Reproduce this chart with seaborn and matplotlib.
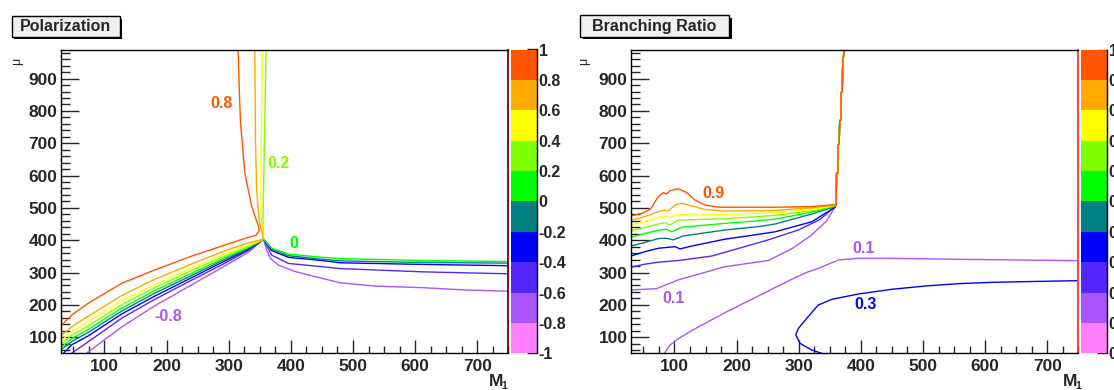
import matplotlib
matplotlib.use("Agg")
import matplotlib.pyplot as plt
from matplotlib.colors import ListedColormap
from matplotlib.patches import Rectangle
from matplotlib.ticker import MultipleLocator, FixedLocator
import numpy as np
import seaborn as sns

# ROOT-like palette, lowest bin first
PALETTE = ["#ff80ff", "#aa55ff", "#5527ff", "#0000ff", "#008080",
           "#00ff00", "#80ff00", "#ffff00", "#ffaa00", "#ff5500"]

POL_EDGES = [-1, -0.8, -0.6, -0.4, -0.2, 0, 0.2, 0.4, 0.6, 0.8, 1]
POL_TICKLABELS = ["-1", "-0.8", "-0.6", "-0.4", "-0.2", "0", "0.2", "0.4", "0.6", "0.8", "1"]
BR_EDGES = [0, 0.1, 0.2, 0.3, 0.4, 0.5, 0.6, 0.7, 0.8, 0.9, 1]
BR_TICKLABELS = ["0", "0.1", "0.2", "0.3", "0.4", "0.5", "0.6", "0.7", "0.8", "0.9", "1"]

# ---- Polarization contours (M1, mu) ----
pol_p08_x = [30, 47, 74, 128, 181, 235, 289, 332, 344, 349, 348, 337, 331.5, 326, 319, 317, 315]
pol_p08_y = [135, 168, 205, 267, 308, 347, 382, 409, 415, 428, 442, 504, 555, 607, 762, 865, 990]
pol_p06_x = [30, 47, 74, 128, 181, 235, 289, 332, 356, 349, 345, 343, 342]
pol_p06_y = [104, 132, 165, 229, 279, 322, 364, 392, 403, 462, 555, 710, 990]
pol_p04_x = [30, 47, 74, 128, 181, 235, 289, 332, 356, 352.5, 351.6, 352.6, 354]
pol_p04_y = [88, 117, 148, 213, 263, 310, 353, 385, 403, 462, 555, 762, 990]
pol_p02_x = [30, 47, 74, 128, 181, 235, 289, 332, 356, 355, 356, 358, 360]
pol_p02_y = [78, 106, 135, 201, 253, 302, 347, 381, 403, 462, 555, 762, 990]
pol_p00_x = [30, 47, 74, 128, 181, 235, 289, 332, 356, 369, 396, 450, 480, 613, 750]
pol_p00_y = [68, 95, 124, 190, 244, 293, 341, 378, 403, 375, 357, 347, 343, 337, 334]
pol_m02_x = [30, 47, 74, 128, 181, 235, 289, 332, 356, 370, 396, 450, 480, 613, 750]
pol_m02_y = [61, 86, 115, 181, 236, 286, 336, 375, 403, 372, 352, 341, 336, 331, 329]
pol_m04_x = [34, 47, 74, 128, 181, 235, 289, 332, 356, 369, 396, 450, 480, 613, 750]
pol_m04_y = [50, 76, 104, 172, 227, 279, 331, 372, 403, 368, 347, 337, 330, 325, 321]
pol_m06_x = [47, 74, 128, 181, 235, 289, 332, 356, 358, 369, 396, 450, 480, 613, 750]
pol_m06_y = [50, 86, 159, 217, 271, 324, 369, 403, 395, 354, 328, 318, 312, 302, 296]
pol_m08_x = [71, 128, 181, 235, 289, 332, 356, 361, 367, 380, 407, 450, 480, 535, 613, 680, 750]
pol_m08_y = [50, 132, 197, 256, 315, 363, 403, 370, 344, 323, 303, 282, 268, 258, 253, 246, 242]

# ---- Branching ratio contours ----
br_vert_x = [360, 361, 363, 363, 365, 366, 368, 368, 370, 371, 372, 373]
br_vert_y = [510, 607, 609, 695, 697, 770, 772, 857, 859, 965, 967, 990]

br_09_x = [30, 47, 61, 74, 82, 87, 93, 106, 120, 133, 149, 171, 235, 262, 321, 358.5]
br_09_y = [475, 483, 495, 535, 547, 543, 553, 559, 547, 524, 509, 502, 502, 502, 504, 510]
br_08_x = [30, 52.5, 74, 85, 90, 101, 112, 128, 149, 181, 235, 262, 321, 358.5]
br_08_y = [462, 473, 488, 493, 490, 509, 514, 506, 495, 490, 491, 492, 500, 509]
br_07_x = [30, 52.5, 74, 85, 93, 101, 128, 181, 235, 262, 321, 358.5]
br_07_y = [447, 457, 471, 475, 470, 478, 481, 480, 483, 485, 495, 508]
br_06_x = [30, 52.5, 74, 85, 93, 106, 181, 235, 262, 321, 358.5]
br_06_y = [428.5, 440, 450, 454, 447, 462, 466.5, 473, 477, 491, 507]
br_05_x = [30, 52.5, 74, 87, 95.5, 112, 181, 235, 262, 321, 358.5]
br_05_y = [409, 421, 430.5, 434, 426, 440, 452, 460, 465, 487, 506]
br_04_x = [30, 52.5, 74, 87, 98, 114, 181, 235, 262, 321, 358.5]
br_04_y = [382, 393, 405, 406, 401, 413, 431.5, 442, 450, 481, 504]
br_03_x = [30, 52.5, 74, 101, 109, 128, 181, 235, 262, 321, 358.5]
br_03_y = [351, 364.5, 375, 380, 373, 382, 403, 418, 426, 457, 502]
br_02_x = [30, 50, 74, 106, 160, 251, 300, 335, 358.5]
br_02_y = [316, 325, 332, 337, 351, 401, 432, 465, 505]
br_01_x = [30, 71, 106, 181, 251, 290, 320, 345, 358.5]
br_01_y = [246, 250, 277, 318, 337, 375, 415, 460, 503]

br_01_low_x = [83.7, 92.8, 106.2, 127.7, 181.4, 235, 288.7, 312.9, 331.7, 363.9, 396.1, 449.8, 557.2, 750]
br_01_low_y = [50, 75.8, 95.4, 120.2, 175.9, 227.4, 279, 300.5, 312.9, 338.7, 343.9, 343.9, 340.8, 336.6]
br_03_low_x = [337, 320.9, 302.1, 295.2, 299.5, 312.9, 329, 331.7, 353.1, 396.1, 449.8, 503.4, 557.1, 610.8, 691.3, 750]
br_03_low_y = [50, 60.2, 80.8, 106.6, 127.2, 158.2, 194.3, 199.5, 217, 233.5, 248, 258.2, 265.5, 269.6, 272.7, 274.8]

W, H = 1114, 390
sns.set_style("white")
plt.rcParams["font.family"] = ["Liberation Sans", "DejaVu Sans"]
plt.rcParams["font.weight"] = "bold"

fig = plt.figure(figsize=(W / 100, H / 100), dpi=100)


def line(ax, xs, ys, color):
    sns.lineplot(x=xs, y=ys, ax=ax, sort=False, estimator=None, color=color,
                 lw=1.0, legend=False)


def setup_frame(ax, right_color):
    ax.set_xlim(30, 750)
    ax.set_ylim(50, 990)
    ax.xaxis.set_major_locator(MultipleLocator(100))
    ax.xaxis.set_minor_locator(MultipleLocator(25))
    ax.yaxis.set_major_locator(MultipleLocator(100))
    ax.yaxis.set_minor_locator(MultipleLocator(20))
    ax.set_xticks([100, 200, 300, 400, 500, 600, 700])
    ax.set_yticks([100, 200, 300, 400, 500, 600, 700, 800, 900])
    ax.tick_params(axis="x", which="major", direction="in", length=9.5, width=1, pad=4)
    ax.tick_params(axis="x", which="minor", direction="in", length=5, width=1)
    ax.tick_params(axis="y", which="major", direction="in", length=13, width=1, pad=2.5)
    ax.tick_params(axis="y", which="minor", direction="in", length=6.5, width=1)
    ax.tick_params(which="both", bottom=True, left=True, top=False, right=False,
                   labelsize=12.5)
    for lab in ax.get_xticklabels() + ax.get_yticklabels():
        lab.set_fontweight("bold")
    for s in ax.spines.values():
        s.set_color("black")
        s.set_linewidth(1.0)
    ax.spines["right"].set_color(right_color)
    ax.spines["right"].set_linewidth(1.3)
    ax.set_xlabel("")
    ax.set_ylabel("")
    ax.grid(False)


def palette_bar(cax, edges, labels):
    cax.pcolormesh([0, 1], edges, np.arange(10).reshape(-1, 1),
                   cmap=ListedColormap(PALETTE), vmin=0, vmax=9, shading="flat")
    cax.set_xlim(0, 1)
    cax.set_ylim(edges[0], edges[-1])
    cax.set_xticks([])
    cax.yaxis.tick_right()
    cax.yaxis.set_major_locator(FixedLocator(edges))
    cax.set_yticklabels(labels, fontweight="bold")
    cax.tick_params(axis="y", direction="in", length=7, width=1, pad=1.5,
                    labelsize=11.5, left=False, right=True)
    for k in ["left", "top", "bottom"]:
        cax.spines[k].set_visible(False)
    cax.spines["right"].set_color("black")
    cax.spines["right"].set_linewidth(1.0)


def title_box(x0, y0, w, h, text):
    dx, dy = 2.5 / W, 2.5 / H
    fig.add_artist(Rectangle((x0 + dx, y0 - dy), w, h, transform=fig.transFigure,
                             facecolor="black", edgecolor="black", lw=0))
    fig.add_artist(Rectangle((x0, y0), w, h, transform=fig.transFigure,
                             facecolor="#f0f0f0", edgecolor="black", lw=1.0))
    fig.text(x0 + w / 2, y0 + h / 2, text, ha="center", va="center",
             fontsize=11.5, fontweight="bold")


def axis_labels(ax_left_px, ax_right_px):
    fig.text(ax_left_px / W, 1 - 61 / H, "μ", rotation=90, ha="center",
             va="center", fontsize=9, fontweight="normal")
    fig.text(ax_right_px / W, 1 - 381 / H, "M", ha="center", va="center",
             fontsize=12.5, fontweight="bold")
    fig.text((ax_right_px + 8.5) / W, 1 - 386 / H, "1", ha="center", va="center",
             fontsize=7.5, fontweight="bold")


# ---------- left: Polarization ----------
ax1 = fig.add_axes([61 / W, 1 - 353.3 / H, 447.3 / W, 303.8 / H])
pol_lines = [
    (pol_m08_x, pol_m08_y, PALETTE[1]),
    (pol_m06_x, pol_m06_y, PALETTE[2]),
    (pol_m04_x, pol_m04_y, PALETTE[3]),
    (pol_m02_x, pol_m02_y, PALETTE[4]),
    (pol_p00_x, pol_p00_y, PALETTE[5]),
    (pol_p02_x, pol_p02_y, PALETTE[6]),
    (pol_p04_x, pol_p04_y, PALETTE[7]),
    (pol_p06_x, pol_p06_y, PALETTE[8]),
    (pol_p08_x, pol_p08_y, PALETTE[9]),
]
for xs, ys, c in pol_lines:
    line(ax1, xs, ys, c)
setup_frame(ax1, "#7a0000")
for txt, x, y, c in [("0.8", 288, 823, PALETTE[9]), ("0.2", 380, 636, PALETTE[6]),
                     ("0", 404, 390, PALETTE[5]), ("-0.8", 203, 163, PALETTE[1])]:
    ax1.text(x, y, txt, color=c, ha="center", va="center", fontsize=11.5,
             fontweight="bold")

cax1 = fig.add_axes([510.7 / W, 1 - 353.3 / H, 26 / W, 303.8 / H])
palette_bar(cax1, POL_EDGES, POL_TICKLABELS)

# ---------- right: Branching Ratio ----------
ax2 = fig.add_axes([631 / W, 1 - 353.3 / H, 447.3 / W, 303.8 / H])
br_lines = [
    (br_01_x, br_01_y, PALETTE[1]),
    (br_02_x, br_02_y, PALETTE[2]),
    (br_03_x, br_03_y, PALETTE[3]),
    (br_04_x, br_04_y, PALETTE[4]),
    (br_05_x, br_05_y, PALETTE[5]),
    (br_06_x, br_06_y, PALETTE[6]),
    (br_07_x, br_07_y, PALETTE[7]),
    (br_08_x, br_08_y, PALETTE[8]),
    (br_09_x, br_09_y, PALETTE[9]),
]
for xs, ys, c in br_lines:
    line(ax2, xs + br_vert_x, ys + br_vert_y, c)
line(ax2, br_01_low_x, br_01_low_y, PALETTE[1])
line(ax2, br_03_low_x, br_03_low_y, PALETTE[3])
setup_frame(ax2, "#ff3030")
for txt, x, y, c in [("0.9", 163, 545, PALETTE[9]), ("0.1", 404, 375, PALETTE[1]),
                     ("0.1", 98, 220, PALETTE[1]), ("0.3", 407, 200, PALETTE[3])]:
    ax2.text(x, y, txt, color=c, ha="center", va="center", fontsize=11.5,
             fontweight="bold")

cax2 = fig.add_axes([1080.7 / W, 1 - 353.3 / H, 26 / W, 303.8 / H])
palette_bar(cax2, BR_EDGES, BR_TICKLABELS)

title_box(11.7 / W, 1 - 36.7 / H, 108.3 / W, 20.5 / H, "Polarization")
title_box(580 / W, 1 - 36.8 / H, 149 / W, 21.5 / H, "Branching Ratio")
axis_labels(17, 496)
axis_labels(584, 1070)

fig.savefig("out.png", dpi=100)
